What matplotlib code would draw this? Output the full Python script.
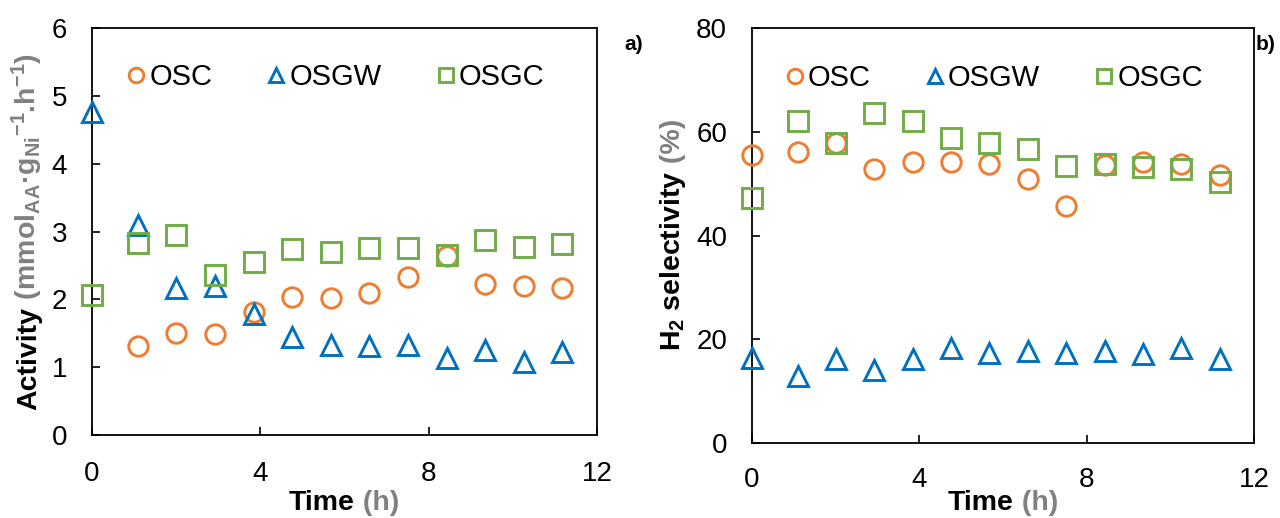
import matplotlib
matplotlib.use("Agg")
import matplotlib.pyplot as plt

plt.rcParams['font.family'] = ['Liberation Sans', 'DejaVu Sans']
plt.rcParams['mathtext.default'] = 'regular'

# sampling times (h)
time = [0, 1.1, 2.0, 2.92, 3.85, 4.76, 5.67, 6.59, 7.51, 8.43, 9.35, 10.26, 11.18]
time_osc_a = time[1:]

# a) activity, mmol_AA g_Ni^-1 h^-1
act_osc = [1.31, 1.51, 1.49, 1.81, 2.04, 2.02, 2.10, 2.33, 2.64, 2.22, 2.20, 2.16]
act_osgw = [4.76, 3.10, 2.17, 2.20, 1.78, 1.45, 1.32, 1.31, 1.32, 1.14, 1.25, 1.08, 1.22]
act_osgc = [2.06, 2.83, 2.95, 2.36, 2.55, 2.74, 2.70, 2.76, 2.76, 2.65, 2.87, 2.77, 2.81]

# b) H2 selectivity, %
sel_osc = [55.6, 56.1, 57.9, 52.8, 54.2, 54.2, 53.7, 50.8, 45.7, 53.5, 54.2, 53.7, 51.6]
sel_osgw = [16.3, 13.0, 16.1, 14.0, 16.1, 18.3, 17.4, 17.7, 17.4, 17.7, 17.1, 18.3, 16.2]
sel_osgc = [47.3, 62.1, 57.9, 63.6, 62.1, 58.8, 57.8, 56.6, 53.4, 53.7, 53.2, 52.9, 50.3]

labels = ["OSC", "OSGW", "OSGC"]
orange = "#ED7D31"
blue = "#0070C0"
green = "#70AD47"
grey = "#808080"

W, H = 1280, 518
fig = plt.figure(figsize=(W / 100, H / 100), dpi=100)
ax1 = fig.add_axes([92 / W, 1 - 435 / H, 505 / W, 407 / H])
ax2 = fig.add_axes([752 / W, 1 - 443 / H, 502 / W, 415 / H])


def draw(ax, xo, yo, yw, yc, ylim, yticks, xpad):
    ax.plot(xo, yo, ls="none", marker="o", ms=14, mfc="none", mec=orange, mew=2.1,
            clip_on=False, label=labels[0], zorder=3)
    ax.plot(time, yw, ls="none", marker="^", ms=14, mfc="none", mec=blue, mew=2.1,
            clip_on=False, label=labels[1], zorder=3)
    ax.plot(time, yc, ls="none", marker="s", ms=14, mfc="none", mec=green, mew=2.1,
            clip_on=False, label=labels[2], zorder=3)
    ax.set_xlim(0, 12)
    ax.set_xticks([0, 4, 8, 12])
    ax.set_ylim(*ylim)
    ax.set_yticks(yticks)
    ax.tick_params(axis="x", direction="in", length=6, width=1.2, labelsize=20, pad=xpad)
    ax.tick_params(axis="y", direction="in", length=6, width=1.2, labelsize=20, pad=18)
    for s in ax.spines.values():
        s.set_linewidth(1.3)
    leg = ax.legend(loc="center", bbox_to_anchor=(0.483, 0.88), ncol=3, frameon=False,
                    handlelength=0.6, handletextpad=0.15, columnspacing=1.9,
                    fontsize=21, borderpad=0, borderaxespad=0, markerscale=0.75)
    return leg


draw(ax1, time_osc_a, act_osc, act_osgw, act_osgc, (0, 6), range(0, 7), 19)
draw(ax2, time, sel_osc, sel_osgw, sel_osgc, (0, 80), range(0, 81, 20), 17)

renderer = fig.canvas.get_renderer()


def two_tone(cx, cy, parts, rotation=0):
    # parts drawn one after another, whole thing centred on (cx, cy) in pixels
    texts = []
    for s, c in parts:
        t = fig.text(0, 0, s, color=c, fontsize=20.5, fontweight="bold",
                     rotation=rotation, rotation_mode="anchor", ha="left", va="baseline")
        texts.append(t)
    ext = [t.get_window_extent(renderer) for t in texts]
    lens = [e.width if rotation == 0 else e.height for e in ext]
    pos = (cx if rotation == 0 else cy) - sum(lens) / 2
    for t, L in zip(texts, lens):
        if rotation == 0:
            t.set_position((pos / W, cy / H))
        else:
            t.set_position((cx / W, pos / H))
        pos += L


two_tone(344, H - 510, [("Time", "black"), (" (h)", grey)])
two_tone(1003, H - 510, [("Time", "black"), (" (h)", grey)])
two_tone(36, H - 231, [("Activity", "black"),
                       (r" (mmol$_{AA}$·g$_{Ni}$$^{-1}$.h$^{-1}$)", grey)], rotation=90)
two_tone(680, H - 235, [("H$_2$ selectivity", "black"), (" (%)", grey)], rotation=90)

fig.text(624 / W, 1 - 45 / H, "a)", fontsize=15, fontweight="bold", ha="left", va="center")
fig.text(1256 / W, 1 - 45 / H, "b)", fontsize=15, fontweight="bold", ha="left", va="center")

fig.savefig("out.png", dpi=100)
